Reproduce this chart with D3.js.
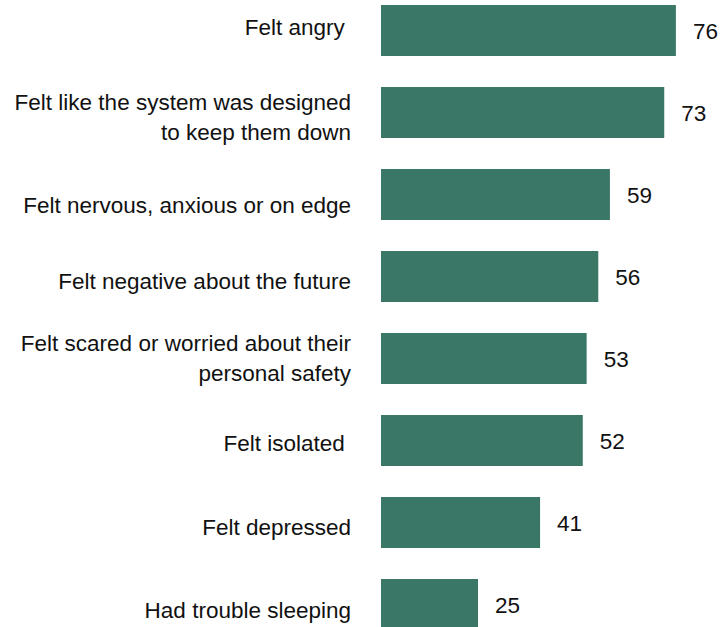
<!DOCTYPE html>
<html>
<head>
<meta charset="utf-8">
<script src="https://cdn.jsdelivr.net/npm/d3@7/dist/d3.min.js"></script>
<style>
  html, body { margin: 0; padding: 0; background: #ffffff; }
  svg { display: block; }
  text { white-space: pre; }
</style>
</head>
<body>
<svg id="chart" width="726" height="627"></svg>
<script>
// ---- data ----
const categories = [
  "Felt angry",
  "Felt like the system was designed to keep them down",
  "Felt nervous, anxious or on edge",
  "Felt negative about the future",
  "Felt scared or worried about their personal safety",
  "Felt isolated",
  "Felt depressed",
  "Had trouble sleeping"
];
const labelLines = [
  ["Felt angry "],
  ["Felt like the system was designed", "to keep them down"],
  ["Felt nervous, anxious or on edge"],
  ["Felt negative about the future"],
  ["Felt scared or worried about their", "personal safety"],
  ["Felt isolated "],
  ["Felt depressed"],
  ["Had trouble sleeping"]
];
const values = [76, 73, 59, 56, 53, 52, 41, 25];

// ---- layout ----
const W = 726, H = 627;
const barLeft = 381;
const labelRight = 351;
const barColor = "#3a7767";
const labelNudge = [-8, 2.5, 6, 0, -2.5, -1.5, 0, 1.5];

const svg = d3.select("#chart");

const x = d3.scaleLinear().domain([0, 100]).range([barLeft, barLeft + 388]);
const y = d3.scaleBand()
  .domain(categories)
  .range([5, 630])
  .paddingInner(31 / 82)
  .paddingOuter(0);

const rows = categories.map((c, i) => ({ c, v: values[i], lines: labelLines[i], i }));

// bars
svg.append("g").selectAll("rect")
  .data(rows)
  .join("rect")
  .attr("x", x(0))
  .attr("y", d => y(d.c))
  .attr("width", d => x(d.v) - x(0))
  .attr("height", y.bandwidth())
  .attr("fill", barColor);

// value labels
svg.append("g").selectAll("text")
  .data(rows)
  .join("text")
  .attr("x", d => x(d.v) + 17)
  .attr("y", d => y(d.c) + y.bandwidth() / 2 + 8)
  .attr("font-family", "'Liberation Sans', Arial, sans-serif")
  .attr("font-size", 22.5)
  .attr("fill", "#111")
  .text(d => d.v);

// category labels
const lab = svg.append("g").selectAll("text")
  .data(rows)
  .join("text")
  .attr("text-anchor", "end")
  .attr("font-family", "'Liberation Sans', Arial, sans-serif")
  .attr("font-size", 22.5)
  .attr("fill", "#111");

lab.each(function(d) {
  const cy = y(d.c) + y.bandwidth() / 2 + labelNudge[d.i];
  const t = d3.select(this);
  const lineH = 30;
  const first = d.lines.length === 1 ? cy + 12 : cy - 5;
  d.lines.forEach((ln, k) => {
    t.append("tspan")
      .attr("x", labelRight)
      .attr("y", first + k * lineH)
      .text(ln);
  });
});
</script>
</body>
</html>
